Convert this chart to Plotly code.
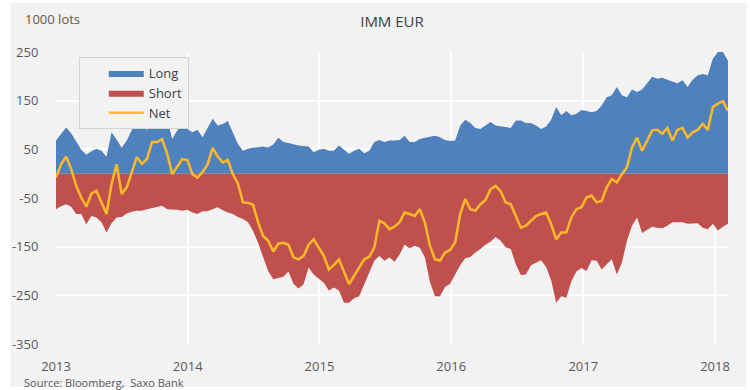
import pandas as pd
import plotly.graph_objects as go

# ---- data (1000 lots), bi-weekly readings from Jan 2013 to Feb 2018 ----
long_vals = [
    68, 82, 95, 83, 65, 49, 39, 46, 51, 47, 35, 85, 70, 53, 68, 89, 111, 99, 89, 138,
    136, 138, 113, 71, 89, 102, 92, 85, 90, 75, 94, 113, 99, 102, 108, 85, 61, 47, 51, 53,
    54, 56, 54, 60, 74, 65, 63, 60, 58, 57, 56, 44, 49, 51, 47, 47, 58, 49, 41, 47,
    51, 42, 47, 65, 69, 65, 68, 68, 69, 78, 65, 65, 71, 74, 76, 78, 75, 69, 67, 68,
    99, 111, 104, 94, 92, 99, 106, 99, 97, 96, 94, 109, 109, 104, 104, 99, 92, 97, 111, 137,
    120, 129, 120, 123, 131, 129, 126, 129, 140, 157, 161, 178, 161, 157, 173, 168, 173, 186, 199, 195,
    197, 193, 190, 186, 192, 178, 193, 202, 205, 202, 236, 250, 250, 232,
]
short_vals = [
    -73, -67, -63, -68, -83, -83, -104, -87, -90, -100, -121, -102, -90, -89, -82, -78, -76, -76, -73, -71,
    -69, -66, -73, -73, -74, -76, -74, -80, -83, -77, -77, -73, -69, -75, -80, -83, -89, -93, -100, -118,
    -142, -172, -200, -217, -215, -212, -201, -226, -236, -227, -193, -207, -216, -224, -240, -234, -240, -265, -265, -256,
    -252, -227, -203, -179, -169, -179, -172, -181, -166, -146, -153, -148, -152, -172, -222, -252, -252, -233, -226, -207,
    -188, -174, -171, -162, -155, -146, -140, -130, -138, -151, -155, -186, -208, -207, -188, -183, -178, -192, -219, -265,
    -252, -255, -221, -201, -194, -200, -178, -179, -197, -186, -176, -207, -183, -138, -107, -90, -122, -115, -109, -111,
    -112, -107, -100, -100, -100, -103, -103, -102, -111, -114, -103, -117, -109, -103,
]
net_vals = [
    -8, 19, 35, 10, -25, -49, -68, -41, -35, -59, -83, -21, 19, -42, -28, 3, 34, 20, 30, 65,
    65, 71, 41, -1, 14, 30, 28, -1, -8, 3, 19, 53, 35, 23, 28, -1, -20, -59, -60, -64,
    -100, -128, -138, -160, -144, -142, -146, -172, -176, -169, -146, -135, -152, -169, -197, -188, -176, -200, -227, -210,
    -193, -176, -171, -152, -97, -102, -114, -109, -100, -80, -83, -87, -73, -100, -148, -176, -179, -162, -157, -141,
    -83, -52, -73, -76, -63, -54, -32, -25, -36, -59, -63, -87, -111, -107, -97, -87, -83, -80, -104, -135,
    -121, -121, -90, -73, -69, -49, -45, -59, -56, -28, -11, -18, -1, 13, 54, 74, 47, 68, 89, 90,
    82, 94, 68, 90, 94, 74, 85, 90, 102, 90, 137, 144, 149, 129,
]
dates = pd.date_range(start="2013-01-01", periods=len(long_vals), freq="14D")

y_ticks = [-350, -250, -150, -50, 50, 150, 250]
y_tick_labels = ["-350", "-250", "-150", "-50", "50", "150", "250"]
x_ticks = ["2013-01-01", "2014-01-01", "2015-01-01", "2016-01-01", "2017-01-01", "2018-01-01"]
x_tick_labels = ["2013", "2014", "2015", "2016", "2017", "2018"]

BLUE = "#4f81bd"
RED = "#c0504d"
GOLD = "#fdb927"
BG = "#f2f2f2"
TXT = "#595959"
FONT = "Open Sans"

fig = go.Figure()
fig.add_trace(go.Scatter(x=dates, y=long_vals, name="Long", mode="lines",
                         fill="tozeroy", fillcolor=BLUE, line=dict(width=0, color=BLUE)))
fig.add_trace(go.Scatter(x=dates, y=short_vals, name="Short", mode="lines",
                         fill="tozeroy", fillcolor=RED, line=dict(width=0, color=RED)))
fig.add_trace(go.Scatter(x=dates, y=net_vals, name="Net", mode="lines",
                         line=dict(width=2.5, color=GOLD)))

L, R, T, B = 49, 22, 52, 46
W, H = 750, 390
pw, ph = W - L - R, H - T - B

fig.update_layout(
    width=W, height=H,
    margin=dict(l=L, r=R, t=T, b=B, pad=0),
    paper_bgcolor="white", plot_bgcolor=BG,
    font=dict(family=FONT, size=12, color=TXT),
    showlegend=True,
    legend=dict(x=(72 - L) / pw, y=(H - B - 57) / ph, xanchor="left", yanchor="top",
                bgcolor=BG, bordercolor="#d3d3d3", borderwidth=1,
                font=dict(family=FONT, size=13, color="#404040"),
                tracegroupgap=0, itemwidth=35, indentation=24),
    title=dict(text="IMM EUR", x=0.5, xref="paper", xanchor="center", y=1 - 22 / H,
               yanchor="middle", font=dict(family=FONT, size=15, color="#404040")),
    xaxis=dict(range=[dates[0], dates[-1]], tickvals=x_ticks, ticktext=x_tick_labels,
               showgrid=True, gridcolor="white", gridwidth=1.5, zeroline=False,
               showline=False, ticks="outside", ticklen=10, tickcolor="rgba(0,0,0,0)",
               tickfont=dict(family=FONT, size=13, color=TXT)),
    yaxis=dict(range=[-350, 250], tickvals=y_ticks, ticktext=y_tick_labels,
               showgrid=True, gridcolor="white", gridwidth=1.5, zeroline=False,
               showline=False, ticks="outside", ticklen=14, tickcolor="rgba(0,0,0,0)",
               tickfont=dict(family=FONT, size=13, color=TXT)),
    shapes=[dict(type="rect", xref="paper", yref="paper", layer="below",
                 x0=(3 - L) / pw, x1=(747 - L) / pw,
                 y0=(H - B - 387) / ph, y1=(H - B - 3) / ph,
                 fillcolor=BG, line=dict(width=0))],
    annotations=[
        dict(text="1000 lots", xref="paper", yref="paper", x=(16 - L) / pw, y=(H - B - 19) / ph,
             xanchor="left", yanchor="middle", showarrow=False,
             font=dict(family=FONT, size=13, color=TXT)),
        dict(text="Source: Bloomberg,  Saxo Bank", xref="paper", yref="paper",
             x=(15 - L) / pw, y=(H - B - 382) / ph, xanchor="left", yanchor="middle",
             showarrow=False, font=dict(family=FONT, size=11, color=TXT)),
    ],
)

fig.write_html("out.html", config={"displayModeBar": False},
               post_script="document.body.style.margin='0';")
